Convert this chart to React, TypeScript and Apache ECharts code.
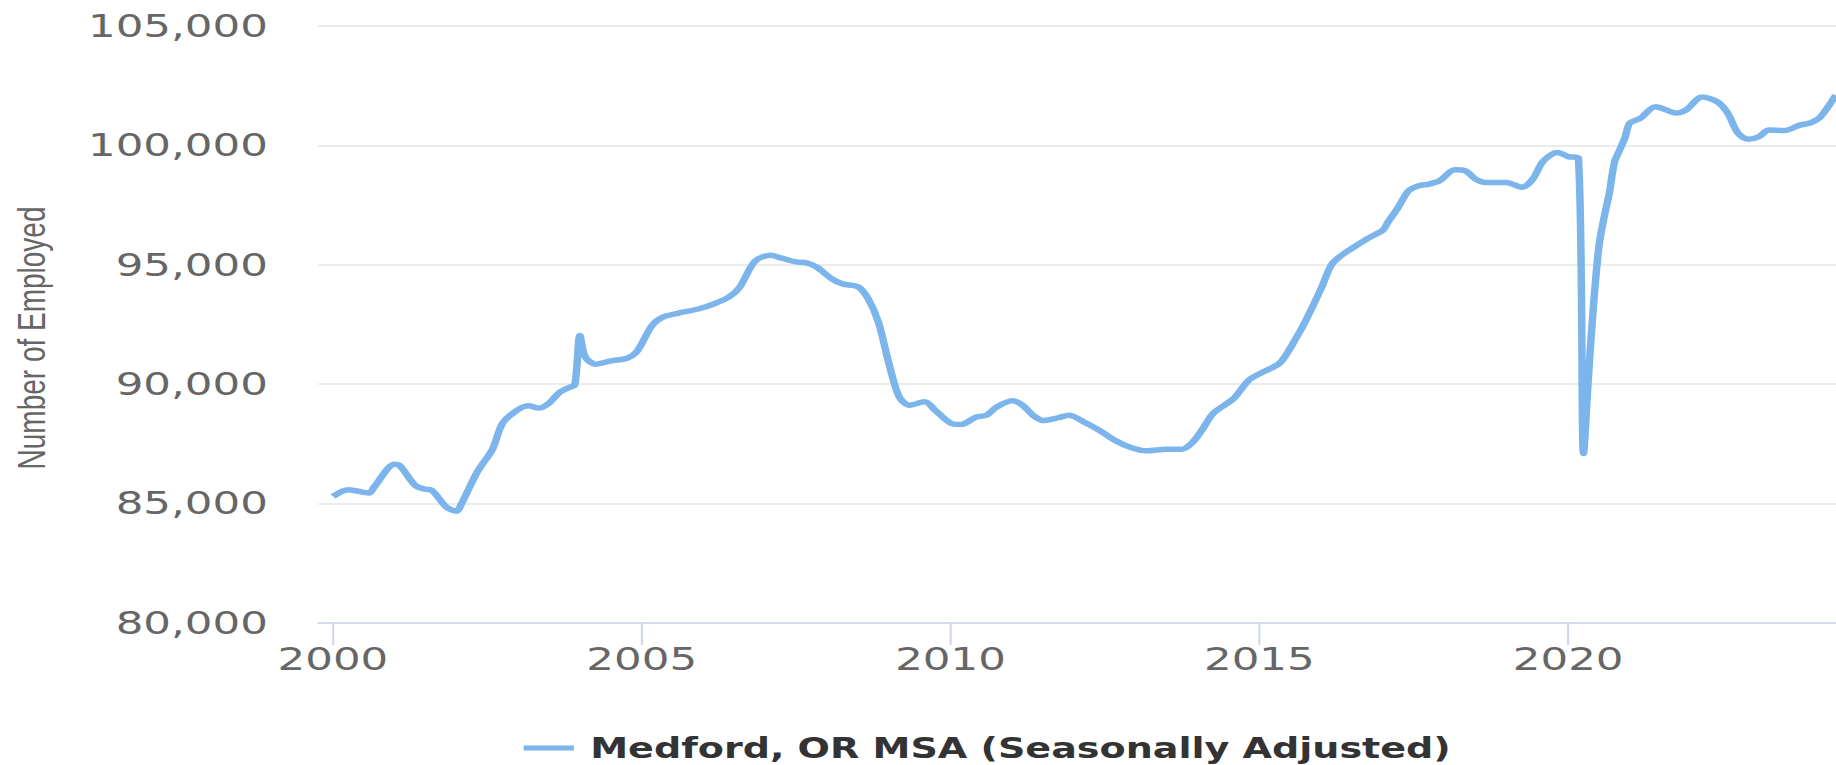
import React, { useEffect, useRef } from "react";
import * as echarts from "echarts";

// Month of each reading (YYYY-MM) and the number employed
const months: string[] = [
  "2000-01","2000-04","2000-08","2000-09","2001-01","2001-02","2001-05","2001-07","2001-08","2001-11",
  "2002-01","2002-02","2002-05","2002-08","2002-10","2003-01","2003-03","2003-05","2003-07","2003-09",
  "2003-11","2003-12","2004-01","2004-02","2004-04","2004-07","2004-10","2004-12","2005-03","2005-05",
  "2005-08","2005-12","2006-03","2006-06","2006-08","2006-11","2007-02","2007-04","2007-07","2007-09",
  "2007-11","2008-02","2008-04","2008-07","2008-09","2008-11","2009-01","2009-03","2009-05","2009-08",
  "2009-10","2010-01","2010-03","2010-06","2010-08","2010-10","2011-01","2011-03","2011-05","2011-07",
  "2011-10","2011-12","2012-03","2012-06","2012-09","2012-12","2013-03","2013-07","2013-10","2013-12",
  "2014-02","2014-04","2014-08","2014-11","2015-02","2015-05","2015-08","2015-10","2016-01","2016-03",
  "2016-05","2016-07","2016-10","2017-01","2017-02","2017-04","2017-06","2017-08","2017-10","2017-12",
  "2018-03","2018-05","2018-07","2018-09","2019-01","2019-04","2019-06","2019-08","2019-10","2019-11",
  "2020-01","2020-03","2020-04","2020-05","2020-06","2020-07","2020-08","2020-09","2020-10","2020-11",
  "2020-12","2021-01","2021-03","2021-06","2021-10","2021-12","2022-03","2022-06","2022-08","2022-10",
  "2022-12","2023-02","2023-04","2023-07","2023-10","2023-12","2024-02","2024-05"
];
const employed: number[] = [
  85300,85580,85440,85690,86650,86590,85760,85600,85580,84860,
  84680,85000,86310,87280,88380,88940,89100,89000,89210,89650,
  89870,89970,92040,91150,90840,90980,91080,91350,92460,92800,
  92970,93150,93360,93660,94050,95150,95400,95290,95120,95080,
  94900,94400,94200,94080,93580,92590,90890,89480,89120,89260,
  88910,88370,88310,88630,88700,89050,89310,89120,88700,88480,
  88600,88700,88410,88060,87640,87350,87210,87280,87280,87560,
  88130,88770,89400,90180,90540,90890,91880,92660,94000,95000,
  95400,95690,96100,96450,96790,97410,98100,98310,98380,98520,
  98980,98940,98590,98450,98450,98250,98550,99300,99650,99700,
  99530,99450,87100,90500,93500,95800,97000,98000,99300,99800,
  100300,100940,101130,101620,101360,101500,102030,101820,101350,100510,
  100260,100360,100640,100620,100850,100940,101190,102100
];
const yearTicks: number[] = [2000, 2005, 2010, 2015, 2020];
const seriesName = "Medford, OR MSA (Seasonally Adjusted)";
const yAxisTitle = "Number of Employed";

const STRETCH = 1.36;
const W = 1350;
const H = 765;

export default function App() {
  const ref = useRef<HTMLDivElement>(null);
  useEffect(() => {
    document.body.style.margin = "0";
    document.body.style.overflow = "hidden";
    if (!ref.current) return;
    const chart = echarts.init(ref.current, undefined, { renderer: "svg" });
    const points = months.map((m, i) => {
      const [y, mo] = m.split("-").map(Number);
      return [y + (mo - 1) / 12, employed[i]];
    });
    chart.setOption({
      animation: false,
      backgroundColor: "#ffffff",
      grid: { left: 234, right: 0, top: 26, bottom: 142 },
      xAxis: {
        type: "value",
        min: 1999.762,
        max: 2024.337,
        splitLine: { show: false },
        axisLine: { show: true, lineStyle: { color: "#ccd6eb", width: 1.5 } },
        axisTick: {
          show: true,
          customValues: yearTicks,
          length: 22,
          lineStyle: { color: "#ccd6eb", width: 1.5 },
        },
        axisLabel: {
          customValues: yearTicks,
          formatter: (v: number) => String(Math.round(v)),
          margin: 20,
          color: "#666666",
          fontSize: 32,
          fontFamily: "'DejaVu Sans', sans-serif",
        },
      },
      yAxis: {
        type: "value",
        min: 80000,
        max: 105000,
        interval: 5000,
        axisLine: { show: false },
        axisTick: { show: false },
        splitLine: { show: true, lineStyle: { color: "#e6e6e6", width: 1.5 } },
        axisLabel: {
          formatter: (v: number) => v.toLocaleString("en-US"),
          margin: 37,
          color: "#666666",
          fontSize: 32,
          fontFamily: "'DejaVu Sans', sans-serif",
        },
      },
      legend: {
        show: true,
        left: 380,
        top: 729,
        itemWidth: 37,
        itemHeight: 5,
        icon: "rect",
        itemStyle: { color: "#7cb5ec" },
        textStyle: {
          color: "#333333",
          fontSize: 28,
          fontWeight: "bold",
          fontFamily: "'DejaVu Sans', sans-serif",
          padding: [0, 0, 0, 7],
        },
      },
      graphic: [
        {
          type: "text",
          x: 23.5,
          y: 338,
          rotation: Math.PI / 2,
          style: {
            text: yAxisTitle,
            fill: "#666666",
            fontSize: 28,
            fontFamily: "'Liberation Sans', Arial, sans-serif",
            textAlign: "center",
            textVerticalAlign: "middle",
          },
        },
      ],
      series: [
        {
          name: seriesName,
          type: "line",
          data: points,
          showSymbol: false,
          symbol: "none",
          smooth: 0.3,
          clip: true,
          itemStyle: { color: "#7cb5ec" },
          lineStyle: { color: "#7cb5ec", width: 5.5 },
        },
      ],
    });
    return () => chart.dispose();
  }, []);
  return (
    <div
      ref={ref}
      style={{
        position: "absolute",
        left: 0,
        top: 0,
        width: W,
        height: H,
        transform: `scaleX(${STRETCH})`,
        transformOrigin: "0 0",
      }}
    />
  );
}
